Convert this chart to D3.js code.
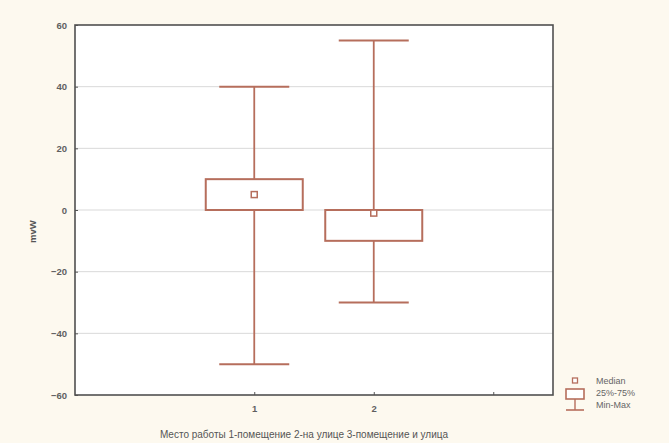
<!DOCTYPE html>
<html><head><meta charset="utf-8">
<script src="https://cdn.jsdelivr.net/npm/d3@7"></script>
<style>body{margin:0;background:#fdf9ef;}svg{display:block;}</style>
</head><body>
<svg id="c" width="669" height="443"></svg>
<script>
const categories = [1, 2];
const medians = [5, -1];
const q1 = [0, -10];
const q3 = [10, 0];
const mins = [-50, -30];
const maxs = [40, 55];
const yTicks = [-60, -40, -20, 0, 20, 40, 60];
const xTicks = [1, 2, 3];
const xTickLabels = ["1", "2", ""];
const yLabel = "mvW";
const xLabel = "Место работы 1-помещение 2-на улице 3-помещение и улица";
const legendLabels = ["Median", "25%-75%", "Min-Max"];

const svg = d3.select("#c");
const W = 669, H = 443;
svg.append("rect").attr("width", W).attr("height", H).attr("fill", "#fdf9ef");
const m = {l: 75, r: 116, t: 25, b: 48};
const x = d3.scaleLinear().domain([-0.5, 3.5]).range([m.l, W - m.r]);
const y = d3.scaleLinear().domain([-60, 60]).range([H - m.b, m.t]);
const col = "#b66e5c";
const textCol = "#5f5f5f";
const font = "Arial, 'Liberation Sans', sans-serif";

svg.append("rect").attr("x", m.l).attr("y", m.t).attr("width", x.range()[1] - m.l)
  .attr("height", y.range()[0] - m.t).attr("fill", "#ffffff");

// grid
svg.append("g").selectAll("line").data(yTicks.slice(1, -1)).join("line")
  .attr("x1", m.l).attr("x2", x.range()[1]).attr("y1", d => y(d)).attr("y2", d => y(d))
  .attr("stroke", "#d9d9d9").attr("stroke-width", 1);

// axes
const ya = svg.append("g").attr("transform", `translate(${m.l},0)`)
  .call(d3.axisLeft(y).tickValues(yTicks).tickSize(-3).tickPadding(8));
const xa = svg.append("g").attr("transform", `translate(0,${y.range()[0]})`)
  .call(d3.axisBottom(x).tickValues(xTicks).tickFormat((d, i) => xTickLabels[i]).tickSize(-3).tickPadding(10));
[ya, xa].forEach(a => {
  a.select(".domain").remove();
  a.selectAll(".tick line").attr("stroke", "#555");
  a.selectAll("text").attr("fill", textCol).style("font-family", font).style("font-size", "9.5px").style("font-weight", "bold");
});
// frame
svg.append("rect").attr("x", m.l).attr("y", m.t).attr("width", x.range()[1] - m.l)
  .attr("height", y.range()[0] - m.t).attr("fill", "none").attr("stroke", "#505050").attr("stroke-width", 1.6);

// boxes
const boxW = 97, capW = 70;
const g = svg.append("g");
categories.forEach((c, i) => {
  const cx = x(c);
  g.append("line").attr("x1", cx).attr("x2", cx).attr("y1", y(maxs[i])).attr("y2", y(q3[i]))
    .attr("stroke", col).attr("stroke-width", 1.8);
  g.append("line").attr("x1", cx).attr("x2", cx).attr("y1", y(q1[i])).attr("y2", y(mins[i]))
    .attr("stroke", col).attr("stroke-width", 1.8);
  [maxs[i], mins[i]].forEach(v => g.append("line").attr("x1", cx - capW / 2).attr("x2", cx + capW / 2)
    .attr("y1", y(v)).attr("y2", y(v)).attr("stroke", col).attr("stroke-width", 2));
  g.append("rect").attr("x", cx - boxW / 2).attr("width", boxW).attr("y", y(q3[i]))
    .attr("height", y(q1[i]) - y(q3[i])).attr("fill", "#ffffff").attr("stroke", col).attr("stroke-width", 2);
  g.append("rect").attr("x", cx - 3).attr("y", y(medians[i]) - 3).attr("width", 6).attr("height", 6)
    .attr("fill", "#ffffff").attr("stroke", col).attr("stroke-width", 1.5);
});

// labels
svg.append("text").attr("transform", `translate(36,${y(-7)}) rotate(-90)`).attr("text-anchor", "middle")
  .attr("fill", "#555").style("font-family", font).style("font-size", "9.5px").style("font-weight", "bold").text(yLabel);
svg.append("text").attr("x", 304).attr("y", 438).attr("text-anchor", "middle")
  .attr("fill", "#555").style("font-family", font).style("font-size", "10px").text(xLabel);

// legend
const lg = svg.append("g");
const lx = 575;
lg.append("rect").attr("x", lx - 2.5).attr("y", 378).attr("width", 5).attr("height", 5)
  .attr("fill", "#fff").attr("stroke", col).attr("stroke-width", 1.3);
lg.append("rect").attr("x", lx - 9).attr("y", 389).attr("width", 18).attr("height", 10)
  .attr("fill", "#fff").attr("stroke", col).attr("stroke-width", 1.6);
lg.append("line").attr("x1", lx).attr("x2", lx).attr("y1", 399).attr("y2", 410).attr("stroke", col).attr("stroke-width", 1.4);
lg.append("line").attr("x1", lx - 9).attr("x2", lx + 9).attr("y1", 410).attr("y2", 410).attr("stroke", col).attr("stroke-width", 1.6);
legendLabels.forEach((t, i) => lg.append("text").attr("x", 596).attr("y", 384 + i * 12)
  .attr("fill", "#666").style("font-family", font).style("font-size", "9px").text(t));
</script>
</body></html>
